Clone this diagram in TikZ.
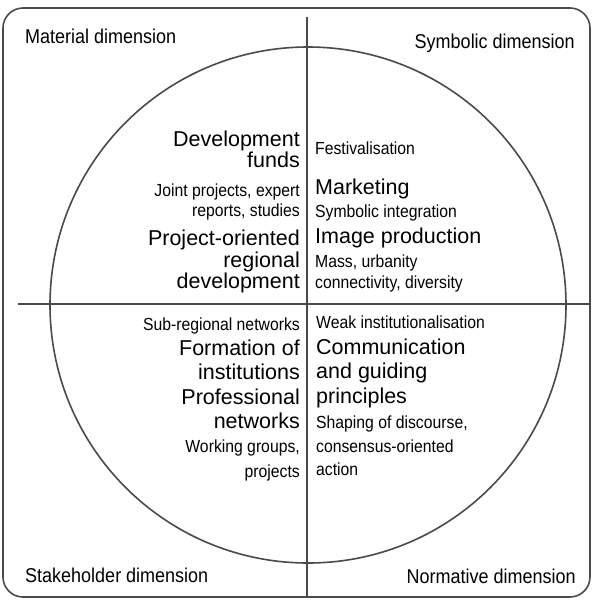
\documentclass[tikz,border=0pt]{standalone}
\usepackage{fontspec}
\setmainfont{Liberation Sans}
\newfontfamily\narrowsans{Liberation Sans}[FakeStretch=0.9]
\usetikzlibrary{positioning}
\definecolor{rimgray}{HTML}{4A4A4A}

\tikzset{
    bigtxt/.style={inner sep=0pt, font=\fontsize{21.5}{22}\selectfont},
    smalltxt/.style={inner sep=0pt, font=\narrowsans\fontsize{17.5}{18}\selectfont},
    headtxt/.style={inner sep=0pt, font=\narrowsans\fontsize{20}{20}\selectfont},
    rim/.style={draw=rimgray, line width=1.6pt}
}

\begin{document}
\begin{tikzpicture}[x=1pt, y=-1pt]
    \useasboundingbox (0,0) rectangle (592,600);
    \draw [rim, rounded corners=20pt] (3,8) rectangle (590,597);
    \node [circle, rim, minimum size=516pt, inner sep=0pt] (ring) at (308,305) {};
    \coordinate (vtop) at (307,17);
    \coordinate (vbot) at (307,597);
    \coordinate (hleft) at (18,304);
    \coordinate (hright) at (590,304);
    \draw [rim] (vtop) -- (vbot);
    \draw [rim] (hleft) -- (hright);
    % dimensions in the corners
    \node [headtxt, anchor=base west] (material) at (25,43) {Material dimension};
    \node [headtxt, anchor=base east] (symbolic) at (575,48) {Symbolic dimension};
    \node [headtxt, anchor=base west] (stakeholder) at (25,582) {Stakeholder dimension};
    \node [headtxt, anchor=base east] (normative) at (576,583) {Normative dimension};
    % upper left
    \foreach \y/\s/\t [count=\i] in {146/bigtxt/Development, 167/bigtxt/funds,
        196/smalltxt/{Joint projects, expert}, 216/smalltxt/{reports, studies},
        245/bigtxt/Project-oriented, 267/bigtxt/regional, 288/bigtxt/development}
        \node [\s, anchor=base east] (ul\i) at (300,\y) {\t};
    % upper right
    \foreach \y/\s/\t [count=\i] in {154/smalltxt/Festivalisation, 194/bigtxt/Marketing,
        217/smalltxt/Symbolic integration, 243/bigtxt/Image production,
        267/smalltxt/{Mass, urbanity}, 288/smalltxt/{connectivity, diversity}}
        \node [\s, anchor=base west] (ur\i) at (315,\y) {\t};
    % lower left
    \foreach \y/\s/\t [count=\i] in {330/smalltxt/Sub-regional networks, 355/bigtxt/Formation of,
        379/bigtxt/institutions, 404/bigtxt/Professional, 428/bigtxt/networks,
        452/smalltxt/{Working groups,}, 477/smalltxt/projects}
        \node [\s, anchor=base east] (ll\i) at (300,\y) {\t};
    % lower right
    \foreach \y/\s/\t [count=\i] in {328/smalltxt/Weak institutionalisation, 354/bigtxt/Communication,
        378/bigtxt/and guiding, 403/bigtxt/principles, 428/smalltxt/{Shaping of discourse,},
        452/smalltxt/consensus-oriented, 475/smalltxt/action}
        \node [\s, anchor=base west] (lr\i) at (316,\y) {\t};
\end{tikzpicture}
\end{document}
